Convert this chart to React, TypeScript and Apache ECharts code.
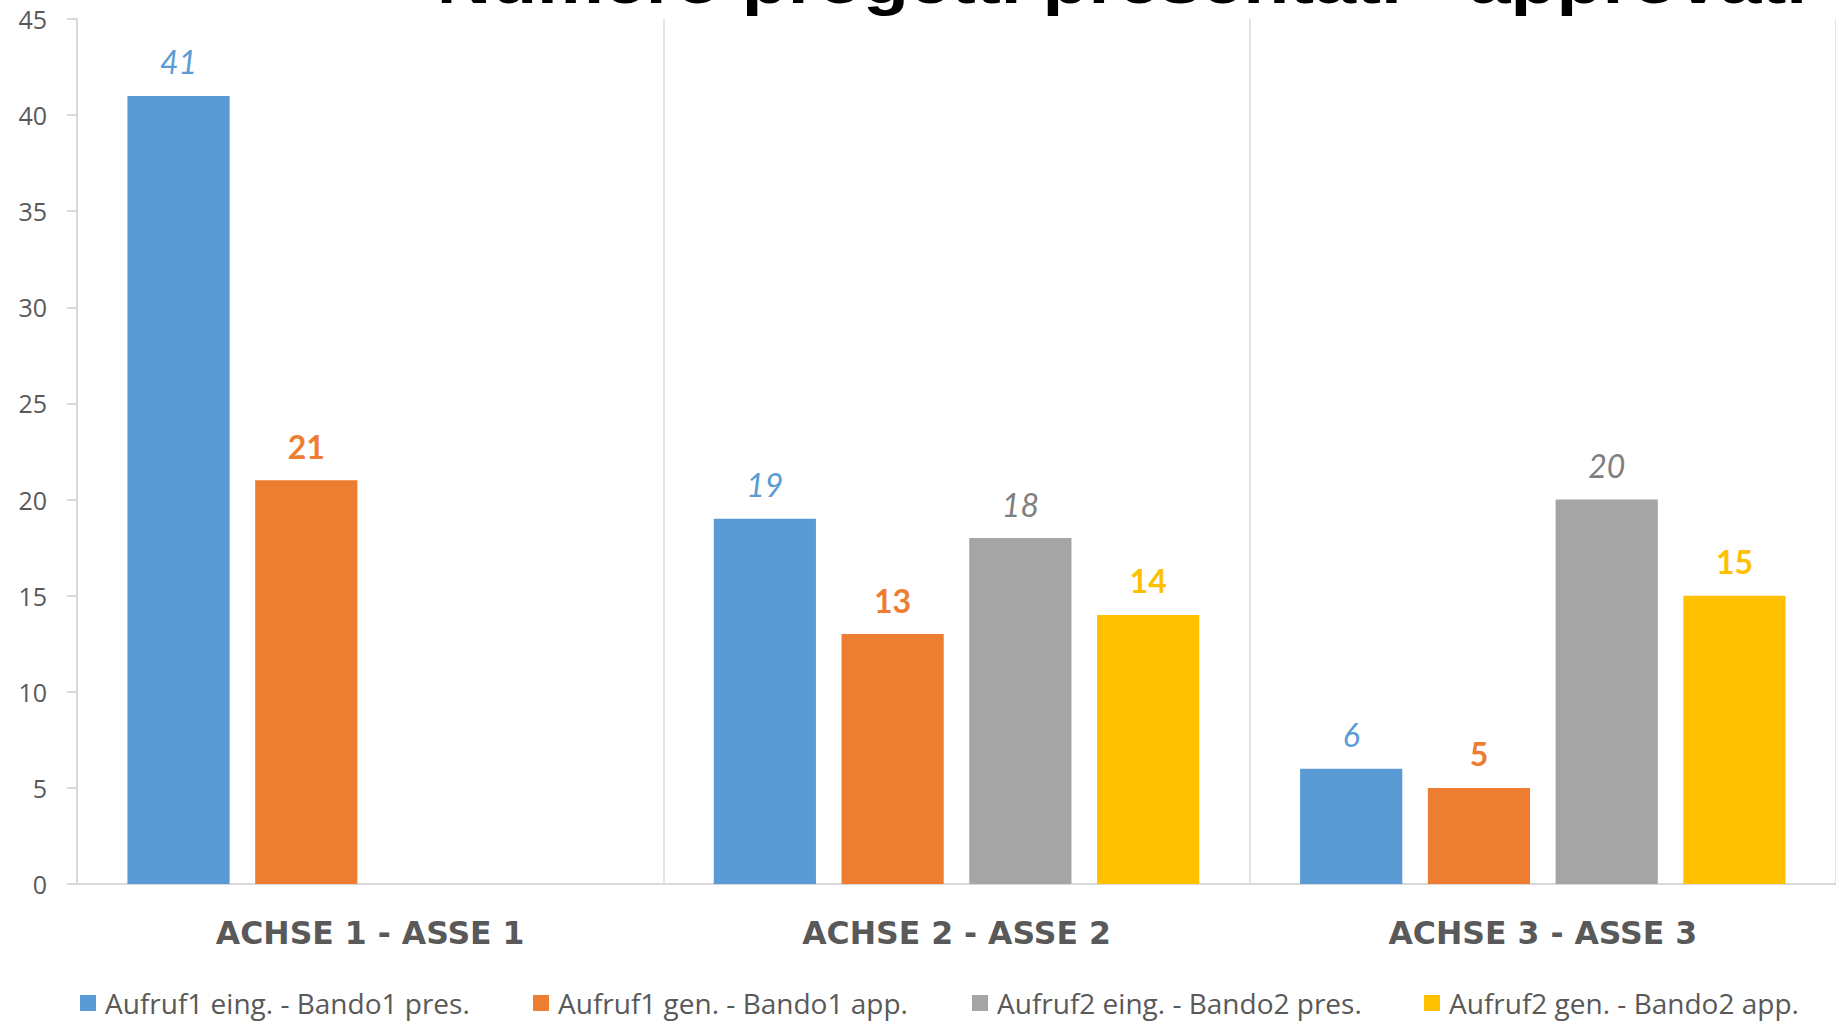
import React, { useEffect, useRef } from "react";
import * as echarts from "echarts";

const categories = ["ACHSE 1 - ASSE 1", "ACHSE 2 - ASSE 2", "ACHSE 3 - ASSE 3"];
const seriesNames = [
  "Aufruf1 eing. - Bando1 pres.",
  "Aufruf1 gen. - Bando1 app.",
  "Aufruf2 eing. - Bando2 pres.",
  "Aufruf2 gen. - Bando2 app.",
];
const bando1Pres = [41, 19, 6];
const bando1App = [21, 13, 5];
const bando2Pres = [null, 18, 20];
const bando2App = [null, 14, 15];
const titleText = "Numero progetti presentati - approvati";

const colors = ["#5b9bd5", "#ed7d31", "#a5a5a5", "#ffc000"];
const labelColors = ["#5b9bd5", "#ed7d31", "#7f7f7f", "#ffc000"];
const labelItalic = [true, false, true, false];
const legendLefts = [80, 533, 972, 1424];

const FONT = "Lato";
const TEXT_FONT = "Open Sans";

export default function App() {
  const ref = useRef<HTMLDivElement>(null);
  useEffect(() => {
    if (!ref.current) return;
    const chart = echarts.init(ref.current, null, { renderer: "svg" });
    const dataSets = [bando1Pres, bando1App, bando2Pres, bando2App];
    const series = dataSets.map((d, i) => ({
      name: seriesNames[i],
      type: "bar",
      data: d,
      barGap: "25%",
      barCategoryGap: "17.2%",
      itemStyle: { color: colors[i] },
      label: {
        show: true,
        position: "top",
        distance: 18,
        color: labelColors[i],
        fontFamily: FONT,
        fontSize: 32,
        fontStyle: labelItalic[i] ? "italic" : "normal",
        fontWeight: labelItalic[i] ? "normal" : "bold",
      },
    }));
    const legends = seriesNames.map((n, i) => ({
      data: [n],
      left: legendLefts[i],
      top: 989,
      padding: 0,
      icon: "rect",
      itemWidth: 16,
      itemHeight: 16,
      selectedMode: false,
      textStyle: {
        color: "#595959",
        fontFamily: TEXT_FONT,
        fontSize: 28,
        padding: [0, 0, 0, 4],
      },
    }));
    chart.setOption({
      animation: false,
      backgroundColor: "#ffffff",
      grid: { left: 77, top: 19, width: 1764, height: 865 },
      legend: legends,
      graphic: [
        {
          type: "text",
          x: 1122,
          y: -19,
          scaleX: 1.175,
          style: {
            text: titleText,
            fill: "#000000",
            fontFamily: "Liberation Sans",
            fontWeight: "bold",
            fontSize: 64,
            align: "center",
            verticalAlign: "middle",
          },
        },
      ],
      xAxis: {
        type: "category",
        data: categories,
        axisLine: { lineStyle: { color: "#d9d9d9", width: 2 } },
        axisTick: { show: false },
        splitLine: { show: true, lineStyle: { color: "#e3e3e3", width: 2 } },
        axisLabel: {
          color: "#595959",
          fontFamily: "DejaVu Sans",
          fontWeight: "bold",
          fontSize: 31.5,
          margin: 33,
        },
      },
      yAxis: {
        type: "value",
        min: 0,
        max: 45,
        interval: 5,
        axisLine: { show: true, lineStyle: { color: "#d9d9d9", width: 2 } },
        axisTick: { show: true, length: 10, lineStyle: { color: "#d9d9d9", width: 2 } },
        splitLine: { show: false },
        axisLabel: {
          color: "#595959",
          fontFamily: TEXT_FONT,
          fontSize: 25,
          margin: 30,
        },
      },
      series,
    });
    return () => chart.dispose();
  }, []);
  return (
    <div
      ref={ref}
      style={{ position: "absolute", left: 0, top: 0, width: 1836, height: 1021 }}
    />
  );
}
